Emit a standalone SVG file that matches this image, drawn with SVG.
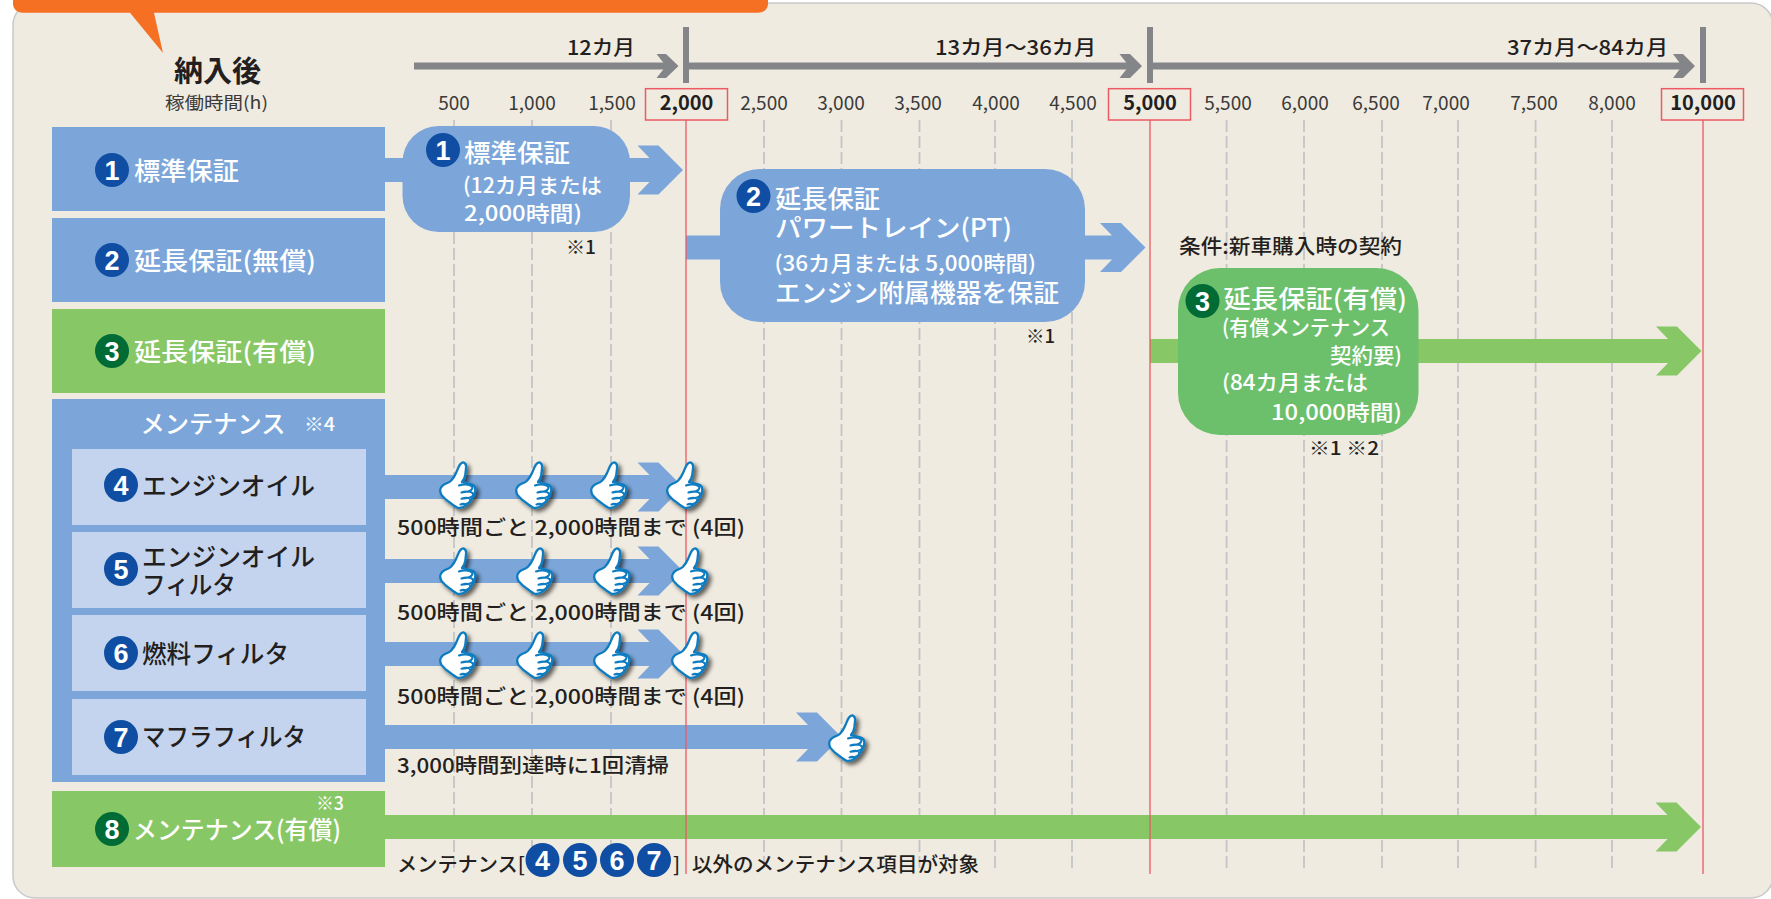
<svg xmlns="http://www.w3.org/2000/svg" xmlns:xlink="http://www.w3.org/1999/xlink" width="1771" height="899" viewBox="0 0 1771 899">
<style>
text{font-family:"Noto Sans CJK JP","Noto Sans",sans-serif;fill:#231f20;font-weight:500}
.w{fill:#fff}
.b{font-weight:700}
.l{font-size:25px}
.m{font-size:21px}
.s{font-size:18px}
.h{font-size:19px;text-anchor:middle;fill:#3a3a3a;font-weight:400}
.hb{font-size:20px;text-anchor:middle;fill:#231f20;font-weight:700}
.n{font-size:27px;fill:#fff;text-anchor:middle;font-family:"Liberation Sans",sans-serif;font-weight:700}
.blue{fill:#7ca6d9}
.green{fill:#88c766}
.navy{fill:#0f4ea3}
.dg{fill:#006b35}
.sub{fill:#c5d4ee}
.dash{stroke:#c4c4c8;stroke-width:1.8;stroke-dasharray:12 4;fill:none}
.red{stroke:#ec5a64;stroke-width:1.3;fill:none}
.rbox{fill:none;stroke:#ec5a64;stroke-width:1.5}
.gray{fill:#848589}
</style>
<defs>
<filter id="sh" x="-30%" y="-30%" width="170%" height="170%"><feDropShadow dx="3" dy="3" stdDeviation="2" flood-color="#000" flood-opacity="0.6"/></filter>
<g id="thumb" filter="url(#sh)">
<path d="M22.3 .3C24.5 1 25.5 3 25 6.5L24.3 12.7C24 15.5 22.5 18 21 20L29.5 22.2C32.5 23 34.6 25.2 34.3 28C34.2 30 33.6 31.500 33 33C32.500 35 31 36.500 30 38C29 40 27 41.800 25 43.300C22 45.500 18.500 46.500 16 45.500L11.700 42.700L5 37.700L.5 33C-.8 30.500 -1.200 27.500 0 25.500C1 24 2.500 22.700 4 22C6.500 21 8.500 20.200 10 18.700C12.500 16 14 13.500 15 11C16.500 8 17.500 4.500 19 2.500C20 1 21 .2 22.300 .3Z" fill="#fff" stroke="#0f7cc0" stroke-width="2.300" stroke-linejoin="round"/>
<path d="M18 23.500C22 22 28 21.800 31 24.500C32.500 26.500 30 29 27 29.500L20.500 30.500M20.500 30.500C24 29 30 29 32 31.500C33 34 30 35.500 27 36L20.500 36.700M20.500 36.700C24 35.500 28 35.500 29.500 37.500C30 40 27 41.500 24.500 42L19.500 42.500M19.500 42.500C21 41.500 23.500 41.500 24.500 42.500" fill="none" stroke="#0f7cc0" stroke-width="2.100" stroke-linecap="round"/>
</g>
</defs>

<rect id="panel" x="13" y="3" width="1760" height="895" rx="22" fill="#f0ebe0" stroke="#c9c9c9" stroke-width="1.5"/>
<g id="callout" fill="#f57023">
<path d="M13 0H768V3.500C768 9 764 12.700 758 12.700H154L163 53L130 12.700H23C17 12.700 13 9 13 3.500Z"/>
</g>

<g id="gridlines">
<path class="dash" d="M454 120V869M532 120V869M611 120V869M764 120V869M841.500 120V869M919.500 120V869M995 120V869M1072 120V869M1226.600 120V869M1304 120V869M1382 120V869M1458 120V869M1535.600 120V869M1612 120V869"/>
</g>

<g id="connectors">
<g id="timeline" class="gray">
<rect x="414" y="62.500" width="256" height="7"/>
<polygon points="656.500,54 666,54 678.500,66 666,78 656.500,78 666,66"/>
<rect x="686" y="62.500" width="446" height="7"/>
<polygon points="1119.500,54 1130,54 1142,66 1130,78 1119.500,78 1129,66"/>
<rect x="1150" y="62.500" width="535" height="7"/>
<polygon points="1673,54 1683,54 1695,66 1683,78 1673,78 1682,66"/>
<rect x="683" y="27" width="6" height="56"/>
<rect x="1147" y="27" width="6" height="56"/>
<rect x="1700" y="27" width="6" height="56"/>
</g>
<polygon class="blue" points="385,158 649.500,158 637.500,145.500 658.500,145.500 683,170 658.500,194.500 637.500,194.500 649.500,182 385,182"/>
<polygon class="blue" points="686,235.500 1112,235.500 1100,223 1121,223 1145.500,247.500 1121,272 1100,272 1112,259.500 686,259.500"/>
<polygon class="green" points="1150,339 1668,339 1656,326.500 1677,326.500 1701.500,351 1677,375.500 1656,375.500 1668,363 1150,363"/>
<polygon class="blue" points="385,475 649.500,475 637.500,462.500 658.500,462.500 683,487 658.500,511.500 637.500,511.500 649.500,499 385,499"/>
<polygon class="blue" points="385,559 649.500,559 637.500,546.500 658.500,546.500 683,571 658.500,595.500 637.500,595.500 649.500,583 385,583"/>
<polygon class="blue" points="385,642 649.500,642 637.500,629.500 658.500,629.500 683,654 658.500,678.500 637.500,678.500 649.500,666 385,666"/>
<polygon class="blue" points="385,725 808,725 796,712.500 817,712.500 841.500,737 817,761.500 796,761.500 808,749 385,749"/>
<polygon class="green" points="385,815 1667.500,815 1655.500,802.500 1676.500,802.500 1701,827 1676.500,851.500 1655.500,851.500 1667.500,839 385,839"/>
</g>

<g id="limit-lines">
<path class="red" d="M686 120V874M1150 120V874M1703 120V874"/>
</g>

<g id="axis-labels">
<text x="174" y="82" font-size="29" class="b" textLength="87" lengthAdjust="spacingAndGlyphs">納入後</text>
<text x="165" y="109" font-size="17" textLength="103" lengthAdjust="spacingAndGlyphs" style="font-weight:400;fill:#3a3a3a">稼働時間(h)</text>
<text x="567" y="55" font-size="20" textLength="68" lengthAdjust="spacingAndGlyphs">12カ月</text>
<text x="935" y="55" font-size="20" textLength="161" lengthAdjust="spacingAndGlyphs">13カ月〜36カ月</text>
<text x="1507" y="55" font-size="20" textLength="161" lengthAdjust="spacingAndGlyphs">37カ月〜84カ月</text>
<text class="h" x="454" y="110">500</text>
<text class="h" x="532" y="110">1,000</text>
<text class="h" x="612" y="110">1,500</text>
<text class="hb" x="686.500" y="110">2,000</text>
<text class="h" x="764" y="110">2,500</text>
<text class="h" x="841" y="110">3,000</text>
<text class="h" x="918" y="110">3,500</text>
<text class="h" x="996" y="110">4,000</text>
<text class="h" x="1073" y="110">4,500</text>
<text class="hb" x="1150" y="110">5,000</text>
<text class="h" x="1228" y="110">5,500</text>
<text class="h" x="1305" y="110">6,000</text>
<text class="h" x="1376" y="110">6,500</text>
<text class="h" x="1446" y="110">7,000</text>
<text class="h" x="1534" y="110">7,500</text>
<text class="h" x="1612" y="110">8,000</text>
<text class="hb" x="1703" y="110">10,000</text>
<rect class="rbox" x="645.500" y="88.700" width="82" height="31.300"/>
<rect class="rbox" x="1108.500" y="88.700" width="82" height="31.300"/>
<rect class="rbox" x="1661.500" y="88.700" width="82" height="31.300"/>
</g>

<g id="row-1"><rect class="blue" x="52" y="127" width="333" height="84"/><circle class="navy" cx="112" cy="170" r="17"/><text class="n" x="112" y="179.500">1</text><text class="l w" x="134" y="180" textLength="105" lengthAdjust="spacingAndGlyphs">標準保証</text></g>
<g id="row-2"><rect class="blue" x="52" y="218" width="333" height="84"/><circle class="navy" cx="112" cy="260" r="17"/><text class="n" x="112" y="269.500">2</text><text class="l w" x="134" y="270" textLength="182" lengthAdjust="spacingAndGlyphs">延長保証(無償)</text></g>
<g id="row-3"><rect class="green" x="52" y="309" width="333" height="84"/><circle class="dg" cx="112" cy="351" r="17"/><text class="n" x="112" y="360.500">3</text><text class="l w" x="134" y="361" textLength="182" lengthAdjust="spacingAndGlyphs">延長保証(有償)</text></g>

<g id="maintenance">
<rect class="blue" x="52" y="399" width="333" height="383"/>
<text class="l w" x="140.500" y="433" textLength="145" lengthAdjust="spacingAndGlyphs">メンテナンス</text>
<text class="s w" x="304" y="431" textLength="31" lengthAdjust="spacingAndGlyphs">※4</text>
</g>
<g id="row-4"><rect class="sub" x="72" y="449" width="294" height="76"/><circle class="navy" cx="121" cy="485" r="17"/><text class="n" x="121" y="494.500">4</text><text class="l" x="142" y="495" textLength="173" lengthAdjust="spacingAndGlyphs">エンジンオイル</text></g>
<g id="row-5"><rect class="sub" x="72" y="532" width="294" height="76"/><circle class="navy" cx="121" cy="569" r="17"/><text class="n" x="121" y="578.500">5</text><text class="l" x="142" y="566" textLength="173" lengthAdjust="spacingAndGlyphs">エンジンオイル</text><text class="l" x="142" y="594" textLength="94" lengthAdjust="spacingAndGlyphs">フィルタ</text></g>
<g id="row-6"><rect class="sub" x="72" y="615" width="294" height="76"/><circle class="navy" cx="121" cy="653" r="17"/><text class="n" x="121" y="662.500">6</text><text class="l" x="142" y="663" textLength="147" lengthAdjust="spacingAndGlyphs">燃料フィルタ</text></g>
<g id="row-7"><rect class="sub" x="72" y="699" width="294" height="76"/><circle class="navy" cx="121" cy="737" r="17"/><text class="n" x="121" y="746.500">7</text><text class="l" x="142" y="746" textLength="164" lengthAdjust="spacingAndGlyphs">マフラフィルタ</text></g>
<g id="row-8"><rect class="green" x="52" y="791" width="333" height="76"/><circle class="dg" cx="112" cy="829" r="17"/><text class="n" x="112" y="838.500">8</text><text class="l w" x="133" y="839" textLength="208" lengthAdjust="spacingAndGlyphs">メンテナンス(有償)</text><text class="s w" x="316" y="810" textLength="28" lengthAdjust="spacingAndGlyphs">※3</text></g>

<g id="bubble-1">
<rect class="blue" x="402.500" y="126" width="227.500" height="106" rx="36"/>
<circle class="navy" cx="443" cy="150" r="17"/><text class="n" x="443" y="159.500">1</text>
<text class="l w" x="464" y="162" textLength="106" lengthAdjust="spacingAndGlyphs">標準保証</text>
<text class="m w" x="463" y="192.500" textLength="139" lengthAdjust="spacingAndGlyphs">(12カ月または</text>
<text class="m w" x="464" y="221" textLength="118" lengthAdjust="spacingAndGlyphs">2,000時間)</text>
</g>
<text id="note-1" class="s" x="566" y="254" textLength="30" lengthAdjust="spacingAndGlyphs">※1</text>

<g id="bubble-2">
<rect class="blue" x="720" y="169" width="365" height="153" rx="40"/>
<circle class="navy" cx="753.500" cy="196" r="17"/><text class="n" x="753.500" y="205.500">2</text>
<text class="l w" x="775" y="208" textLength="105" lengthAdjust="spacingAndGlyphs">延長保証</text>
<text class="l w" x="775" y="237" textLength="237" lengthAdjust="spacingAndGlyphs">パワートレイン(PT)</text>
<text class="m w" x="774.500" y="270.500" textLength="261.500" lengthAdjust="spacingAndGlyphs">(36カ月または 5,000時間)</text>
<text class="l w" x="775" y="302" textLength="284" lengthAdjust="spacingAndGlyphs">エンジン附属機器を保証</text>
</g>
<text id="note-2" class="s" x="1026" y="343" textLength="29" lengthAdjust="spacingAndGlyphs">※1</text>

<text id="condition" x="1179" y="254" font-size="20" textLength="223" lengthAdjust="spacingAndGlyphs">条件:新車購入時の契約</text>

<g id="bubble-3">
<rect x="1178" y="268" width="240.500" height="167" rx="42" fill="#6cbf6b"/>
<circle class="dg" cx="1202.500" cy="301" r="17"/><text class="n" x="1202.500" y="310.500">3</text>
<text class="l w" x="1223.500" y="308" textLength="183.500" lengthAdjust="spacingAndGlyphs">延長保証(有償)</text>
<text class="m w" x="1222" y="335" textLength="168" lengthAdjust="spacingAndGlyphs">(有償メンテナンス</text>
<text class="m w" x="1330" y="363" textLength="72" lengthAdjust="spacingAndGlyphs">契約要)</text>
<text class="m w" x="1222" y="390" textLength="146" lengthAdjust="spacingAndGlyphs">(84カ月または</text>
<text class="m w" x="1271" y="420" textLength="131" lengthAdjust="spacingAndGlyphs">10,000時間)</text>
</g>
<text id="note-3" class="s" x="1309" y="455" textLength="70" lengthAdjust="spacingAndGlyphs">※1 ※2</text>

<g id="thumbs">
<use xlink:href="#thumb" x="441" y="462"/><use xlink:href="#thumb" x="517" y="462"/><use xlink:href="#thumb" x="592" y="462"/><use xlink:href="#thumb" x="668" y="462"/>
<use xlink:href="#thumb" x="441" y="548"/><use xlink:href="#thumb" x="518" y="548"/><use xlink:href="#thumb" x="595" y="548"/><use xlink:href="#thumb" x="673" y="548"/>
<use xlink:href="#thumb" x="441" y="632"/><use xlink:href="#thumb" x="518" y="632"/><use xlink:href="#thumb" x="595" y="632"/><use xlink:href="#thumb" x="673" y="632"/>
<use xlink:href="#thumb" x="830" y="715"/>
</g>

<g id="row-labels" font-size="20">
<text x="397" y="534.500" textLength="348" lengthAdjust="spacingAndGlyphs">500時間ごと 2,000時間まで (4回)</text>
<text x="397" y="619.500" textLength="348" lengthAdjust="spacingAndGlyphs">500時間ごと 2,000時間まで (4回)</text>
<text x="397" y="703.500" textLength="348" lengthAdjust="spacingAndGlyphs">500時間ごと 2,000時間まで (4回)</text>
<text x="397" y="772.500" textLength="272" lengthAdjust="spacingAndGlyphs">3,000時間到達時に1回清掃</text>
<text x="397" y="872" textLength="128" lengthAdjust="spacingAndGlyphs">メンテナンス[</text>
<circle class="navy" cx="542.500" cy="860" r="17"/><text class="n" x="542.500" y="869.500">4</text>
<circle class="navy" cx="580" cy="860" r="17"/><text class="n" x="580" y="869.500">5</text>
<circle class="navy" cx="617" cy="860" r="17"/><text class="n" x="617" y="869.500">6</text>
<circle class="navy" cx="654" cy="860" r="17"/><text class="n" x="654" y="869.500">7</text>
<text x="673" y="872">]</text>
<text x="692" y="872" textLength="287" lengthAdjust="spacingAndGlyphs">以外のメンテナンス項目が対象</text>
</g>
</svg>
